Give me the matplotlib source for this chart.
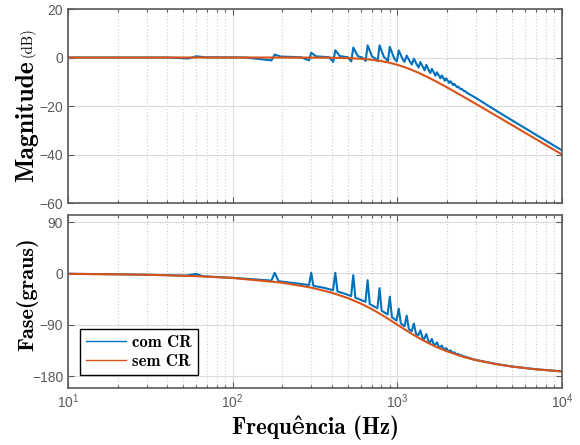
import matplotlib
matplotlib.use("Agg")
import matplotlib.pyplot as plt
from matplotlib.ticker import NullLocator, NullFormatter

# sem CR (plain filter), frequency in Hz
f_sem = [10, 30, 60, 100, 200, 300, 400, 500, 600, 700, 800, 900, 1000, 1100, 1200,
         1350, 1500, 1700, 2000, 2500, 3000, 4000, 5000, 7000, 10000]
mag_sem = [0, 0, 0, 0, -0.01, -0.04, -0.11, -0.26, -0.53, -0.93, -1.49, -2.19, -3.01,
           -3.92, -4.88, -6.36, -7.83, -9.71, -12.30, -16.03, -19.14, -24.10, -27.97,
           -33.80, -40.00]
fase_sem = [-0.81, -2.43, -4.87, -8.13, -16.4, -25.0, -33.96, -43.3, -53.0, -62.7, -72.35,
            -81.5, -90.0, -97.7, -104.5, -113.3, -120.5, -128.2, -136.7, -146.0, -152.1,
            -159.3, -163.6, -168.3, -171.9]

# com CR, magnitude (dB)
f_mag_com = [10, 40, 54, 60, 68, 120, 172, 180, 195, 260, 291, 300, 320, 385, 408, 420, 447,
             500, 525, 540, 575, 615, 642, 660, 703, 735, 759, 780, 830, 850, 876, 900, 958,
             975, 992, 1020, 1080, 1105, 1140, 1200, 1225, 1260, 1320, 1345, 1380, 1440,
             1465, 1500, 1560, 1585, 1620, 1680, 1705, 1740, 1800, 1825, 1860, 1920, 1945,
             1980, 2040, 2065, 2100, 2160, 2185, 2220, 2280, 2305, 2340, 2400, 2425, 2460,
             2520, 2545, 2580, 2640, 3000, 4000, 5000, 7000, 10000]
mag_com = [0.0, 0.0, -0.4, 0.5, 0.1, 0.0, -1.2, 1.2, 0.4, 0.1, -1.2, 2.0, 0.5, 0.1, -1.8, 3.0,
           0.6, 0.1, -1.6, 4.1, 0.6, -0.1, -1.4, 5.0, 0.4, -0.4, -1.5, 5.0, 0.1, -0.4, -1.5,
           4.4, -0.4, -1.0, -1.6, 2.9, -0.8, -1.8, 0.8, -2.0, -2.9, -0.5, -3.2, -4.1, -1.9,
           -4.3, -5.3, -3.0, -5.6, -6.4, -4.7, -6.7, -7.5, -6.1, -7.8, -8.6, -7.4, -8.9,
           -9.6, -8.6, -9.9, -10.5, -9.8, -10.9, -11.4, -10.9, -11.9, -12.3, -12.0, -12.8,
           -13.1, -12.9, -13.7, -13.9, -13.8, -14.5, -16.7, -22.0, -26.0, -32.0, -38.3]

# com CR, phase (graus)
f_fase_com = [10, 20, 40, 52, 60, 66, 100, 150, 172, 180, 190, 250, 291, 300, 309, 360, 407,
              420, 433, 480, 524, 540, 556, 600, 640, 660, 680, 720, 757, 780, 803, 873, 900,
              927, 989, 1020, 1051, 1106, 1140, 1174, 1222, 1260, 1298, 1339, 1380, 1421,
              1455, 1500, 1545, 1580, 1620, 1660, 1697, 1740, 1784, 1814, 1860, 1907, 1931,
              1980, 2030, 2048, 2100, 2153, 2165, 2220, 2276, 2293, 2340, 2387, 2411, 2460,
              2509, 2528, 2580, 2632, 2646, 2700, 2754, 2764, 2820, 2876, 3000, 4000, 5000,
              7000, 10000]
fase_com = [-0.8, -1.6, -3.2, -4.0, -1.0, -5.1, -7.8, -11.5, -12.6, 1.0, -13.8, -18.0, -20.5,
            1.0, -21.8, -25.5, -29.5, 1.0, -31.8, -35.8, -39.8, -3.0, -42.6, -46.5, -50.0,
            -12.0, -54.0, -57.7, -61.3, -26.0, -65.6, -72.1, -41.0, -76.9, -82.8, -62.0,
            -88.0, -92.8, -74.0, -97.8, -101.3, -88.0, -106.0, -108.7, -100.0, -113.0,
            -115.0, -106.5, -119.0, -120.8, -115.0, -124.0, -125.5, -121.0, -128.5, -129.8,
            -126.5, -132.6, -133.5, -131.0, -136.0, -136.5, -135.0, -138.9, -139.2, -138.5,
            -141.5, -141.9, -141.2, -143.6, -144.1, -143.6, -145.7, -146.0, -145.8, -147.5,
            -147.7, -147.7, -149.1, -149.2, -149.4, -150.6, -151.8, -158.9, -163.4, -168.2,
            -171.9]

azul = "#0072BD"
laranja = "#D95319"
cinza = "#5a5a5a"
serif_b = ["cmb10", "DejaVu Serif"]

plt.rcParams["font.family"] = ["Liberation Sans", "DejaVu Sans"]
plt.rcParams["mathtext.fontset"] = "custom"
plt.rcParams["mathtext.rm"] = "Liberation Sans"

fig = plt.figure(figsize=(5.8, 4.45), dpi=100)
ax1 = fig.add_axes([68 / 580, 1 - 203 / 445, 494 / 580, 194 / 445])
ax2 = fig.add_axes([68 / 580, 1 - 388 / 445, 494 / 580, 173 / 445])

ax1.semilogx(f_mag_com, mag_com, color=azul, lw=1.5, label="com CR")
ax1.semilogx(f_sem, mag_sem, color=laranja, lw=1.5, label="sem CR")
ax2.semilogx(f_fase_com, fase_com, color=azul, lw=1.5, label="com CR")
ax2.semilogx(f_sem, fase_sem, color=laranja, lw=1.5, label="sem CR")

ax1.set_ylim(-60, 20)
ax1.set_yticks([-60, -40, -20, 0, 20])
ax2.set_ylim(-201, 102.3)
ax2.set_yticks([-180, -90, 0, 90])

for ax in (ax1, ax2):
    ax.set_xlim(10, 10000)
    ax.yaxis.set_minor_locator(NullLocator())
    ax.tick_params(which="both", direction="in", top=True, right=True,
                   colors=cinza, labelsize=10, width=0.8)
    ax.tick_params(which="major", length=4)
    ax.tick_params(which="minor", length=2.5)
    ax.xaxis.grid(True, which="major", color="#dcdcdc", lw=0.8, ls="-")
    ax.yaxis.grid(True, which="major", color="#dcdcdc", lw=0.8, ls="-")
    ax.xaxis.grid(True, which="minor", color="#cdcdcd", lw=0.8, ls=(0, (1, 2)))
    ax.yaxis.grid(False, which="minor")
    ax.set_axisbelow(True)
    for s in ax.spines.values():
        s.set_color(cinza)
        s.set_linewidth(1.2)

ax1.xaxis.set_major_formatter(NullFormatter())

fig.text(27 / 580, 1 - 121 / 445, "Magnitude", rotation=90, ha="center", va="center",
         fontsize=18.5, family=serif_b)
fig.text(28 / 580, 1 - 42 / 445, "(dB)", rotation=90, ha="center", va="center",
         fontsize=10.5, family=["cmr10", "DejaVu Serif"])
fig.text(27 / 580, 1 - 294 / 445, "Fase(graus)", rotation=90, ha="center", va="center",
         fontsize=16, family=serif_b)
fig.text(316 / 580, 1 - 428 / 445, "Frequência (Hz)", ha="center", va="center",
         fontsize=16.5, family=serif_b)

leg = ax2.legend(loc="lower left", bbox_to_anchor=(0.024, 0.075), fancybox=False,
                 edgecolor="black", framealpha=1, prop={"family": serif_b, "size": 12},
                 handlelength=2.4, handletextpad=0.4, borderaxespad=0, labelspacing=0.25,
                 borderpad=0.35)
leg.get_frame().set_linewidth(1.0)
for l in leg.get_lines():
    l.set_linewidth(1.0)

fig.savefig("out.png", dpi=100)
